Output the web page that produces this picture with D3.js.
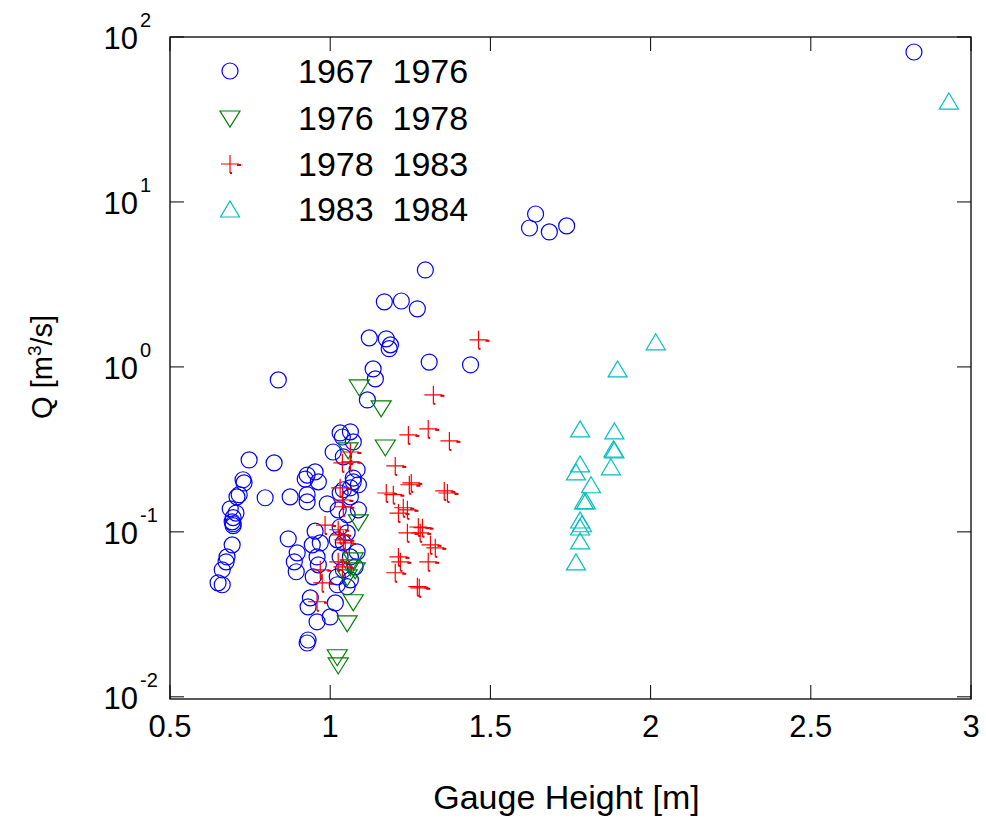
<!DOCTYPE html>
<html>
<head>
<meta charset="utf-8">
<script src="https://cdn.jsdelivr.net/npm/d3@7"></script>
<style>
  body { margin: 0; background: #fff; }
  text { font-family: "Liberation Sans", Arial, sans-serif; fill: #000; }
</style>
</head>
<body>
<div id="chart"></div>
<script>
// Data: gauge height [m] and discharge Q [m^3/s]
let seriesNames = ["1967  1976", "1976  1978", "1978  1983", "1983  1984"];

let blueGauge = [2.822,1.641,1.622,1.684,1.738,1.297,1.169,1.222,1.272,1.122,
  1.175,1.188,1.184,1.309,1.438,1.134,1.141,1.116,0.838,0.747,
  0.825,0.728,0.731,0.716,0.709,0.797,0.875,0.688,0.706,0.697,
  0.694,0.697,0.697,0.694,0.678,0.675,0.663,0.650,0.663,0.869,
  0.897,0.888,0.894,0.953,0.922,0.963,0.928,0.928,0.991,0.953,
  0.944,0.969,0.959,0.963,0.947,0.938,0.931,0.959,1.000,1.016,
  0.931,0.928,1.063,1.038,1.031,1.009,1.084,1.072,1.088,1.063,
  1.031,1.063,1.088,1.025,1.053,1.031,1.053,1.022,1.041,1.084,
  1.063,1.031,1.078,1.041,1.022,1.063,1.053,1.022,1.072,1.041,
  0.928,1.072,1.041];
let blueQ = [81.1,8.45,6.95,6.58,7.16,3.87,2.48,2.51,2.25,1.50,
  1.48,1.36,1.29,1.07,1.03,0.972,0.846,0.631,0.834,0.273,
  0.262,0.207,0.198,0.168,0.163,0.161,0.163,0.138,0.130,0.122,
  0.115,0.112,0.109,0.0834,0.0705,0.0658,0.0589,0.0491,0.0478,0.0908,
  0.0746,0.0658,0.0573,0.231,0.209,0.201,0.168,0.152,0.148,0.101,
  0.0834,0.0857,0.0705,0.0631,0.0534,0.0398,0.0351,0.0285,0.0305,0.0371,
  0.0221,0.0212,0.404,0.376,0.398,0.305,0.238,0.212,0.193,0.185,
  0.172,0.163,0.136,0.136,0.127,0.107,0.0986,0.0895,0.0857,0.0757,
  0.0705,0.0705,0.0614,0.0589,0.0534,0.0512,0.0465,0.0478,0.351,0.285,
  0.221,0.201,0.180];

let greenGauge = [1.091,1.159,1.172,1.056,1.088,1.072,1.063,1.078,1.053,1.072,1.053,1.022,1.025];
let greenQ = [0.756,0.565,0.327,0.314,0.115,0.0676,0.0614,0.0589,0.0534,0.0377,0.0281,0.0175,0.0156];

let redGauge = [1.463,1.322,1.244,1.306,1.372,1.203,1.253,1.247,1.175,1.197,
  1.356,1.366,1.228,1.241,1.213,1.275,1.288,1.241,1.281,1.313,
  1.328,1.213,1.219,1.306,1.203,1.272,1.278,1.063,1.038,1.063,
  1.031,1.038,1.041,0.984,1.025,1.031,1.041,1.047,1.025,1.038,
  0.969,0.975,0.959];
let redQ = [1.46,0.677,0.387,0.421,0.356,0.251,0.198,0.193,0.172,0.168,
  0.177,0.172,0.140,0.136,0.130,0.107,0.106,0.0986,0.0986,0.0834,
  0.0800,0.0705,0.0658,0.0658,0.0565,0.0465,0.0458,0.305,0.262,0.266,
  0.185,0.156,0.142,0.110,0.103,0.0960,0.0895,0.0857,0.0658,0.0614,
  0.0589,0.0491,0.0377];

let cyanGauge = [2.931,2.016,1.897,1.780,1.887,1.884,1.887,1.780,1.767,1.876,1.814,1.792,1.798,1.780,1.786,1.780,1.780,1.767];
let cyanQ = [40.9,1.42,0.972,0.421,0.409,0.318,0.314,0.258,0.231,0.248,0.193,0.154,0.154,0.118,0.112,0.107,0.0882,0.0658];

let xTicks = [0.5, 1, 1.5, 2, 2.5, 3];
let xTickLabels = ["0.5", "1", "1.5", "2", "2.5", "3"];
let yTicks = [0.01, 0.1, 1, 10, 100];
let yTickExp = ["-2", "-1", "0", "1", "2"];

// Set up SVG
let svgWidth = 986;
let svgHeight = 819;
let margin = { top: 37, right: 15, bottom: 120, left: 170 };
let width = svgWidth - margin.left - margin.right;
let height = svgHeight - margin.top - margin.bottom;

let svg = d3.select("#chart").append("svg")
  .attr("width", svgWidth)
  .attr("height", svgHeight);

let chartGroup = svg.append("g")
  .attr("transform", `translate(${margin.left}, ${margin.top})`);

let xScale = d3.scaleLinear().domain([0.5, 3]).range([0, width]);
let yScale = d3.scaleLog().domain([0.0097, 100]).range([height, 0]);

// frame
chartGroup.append("rect")
  .attr("width", width).attr("height", height)
  .attr("fill", "none").attr("stroke", "#000").attr("stroke-width", 1.3);

// inward ticks on all four sides
let tickLen = 14;
xTicks.forEach(t => {
  let x = xScale(t);
  chartGroup.append("line").attr("x1", x).attr("x2", x)
    .attr("y1", height).attr("y2", height - tickLen).attr("stroke", "#000");
  chartGroup.append("line").attr("x1", x).attr("x2", x)
    .attr("y1", 0).attr("y2", tickLen).attr("stroke", "#000");
});
yTicks.forEach(t => {
  let y = yScale(t);
  chartGroup.append("line").attr("x1", 0).attr("x2", tickLen)
    .attr("y1", y).attr("y2", y).attr("stroke", "#000");
  chartGroup.append("line").attr("x1", width).attr("x2", width - tickLen)
    .attr("y1", y).attr("y2", y).attr("stroke", "#000");
});

// tick labels
chartGroup.selectAll(".xlab").data(xTicks).enter().append("text")
  .attr("x", d => xScale(d))
  .attr("y", height + 38)
  .attr("text-anchor", "middle")
  .style("font-size", "31px")
  .text((d, i) => xTickLabels[i]);

yTicks.forEach((t, i) => {
  let y = yScale(t);
  chartGroup.append("text")
    .attr("x", -32).attr("y", y + 12)
    .attr("text-anchor", "end")
    .style("font-size", "31px")
    .text("10");
  chartGroup.append("text")
    .attr("x", -30).attr("y", y - 10)
    .attr("text-anchor", "start")
    .style("font-size", "20px")
    .text(yTickExp[i]);
});

// axis labels
chartGroup.append("text")
  .attr("x", width / 2 - 4)
  .attr("y", height + 110)
  .attr("text-anchor", "middle")
  .style("font-size", "34px")
  .text("Gauge Height [m]");

let yLab = chartGroup.append("text")
  .attr("transform", `translate(${-118}, ${yScale(1)}) rotate(-90)`)
  .attr("text-anchor", "middle")
  .style("font-size", "29px");
yLab.append("tspan").text("Q [m");
yLab.append("tspan").attr("dy", -11).style("font-size", "19px").text("3");
yLab.append("tspan").attr("dy", 11).text("/s]");

// marker shapes
function markerPath(shape) {
  if (shape === "circle") return "M8,0A8,8 0 1,1 -8,0A8,8 0 1,1 8,0Z";
  if (shape === "down") return "M-10,-7L10,-7L0,9Z";
  if (shape === "up") return "M0,-8L9.5,8L-9.5,8Z";
  return "M-9,0L9,0M0,-9L0,9";
}

let series = [
  { name: seriesNames[0], gauge: blueGauge, q: blueQ, color: "#0000ff", shape: "circle" },
  { name: seriesNames[1], gauge: greenGauge, q: greenQ, color: "#008000", shape: "down" },
  { name: seriesNames[2], gauge: redGauge, q: redQ, color: "#ff0000", shape: "plus" },
  { name: seriesNames[3], gauge: cyanGauge, q: cyanQ, color: "#00bfbf", shape: "up" }
];

function drawMarker(g, s) {
  g.append("path")
    .attr("d", markerPath(s.shape))
    .attr("fill", "none")
    .attr("stroke", s.color)
    .attr("stroke-width", 1.2);
  if (s.shape === "plus") {
    // small stub that the original renderer leaves next to each cross
    g.append("rect").attr("x", 7).attr("y", 0).attr("width", 4).attr("height", 2).attr("fill", "#e00000");
    g.append("rect").attr("x", 0).attr("y", 8).attr("width", 2).attr("height", 2).attr("fill", "#e00000");
  }
}

let plotGroup = chartGroup.append("g");
series.forEach(s => {
  let pts = d3.zip(s.gauge, s.q);
  plotGroup.selectAll(null)
    .data(pts)
    .enter()
    .append("g")
    .attr("transform", d => `translate(${xScale(d[0])}, ${yScale(d[1])})`)
    .each(function() { drawMarker(d3.select(this), s); });
});

// legend
let legendRows = [71, 118, 164, 209];
series.forEach((s, i) => {
  let g = chartGroup.append("g")
    .attr("transform", `translate(${230 - margin.left}, ${legendRows[i] - margin.top})`);
  drawMarker(g, s);
  chartGroup.append("text")
    .attr("x", 298 - margin.left)
    .attr("y", legendRows[i] - margin.top + 12)
    .style("font-size", "34px")
    .style("white-space", "pre")
    .text(s.name);
});
</script>
</body>
</html>
